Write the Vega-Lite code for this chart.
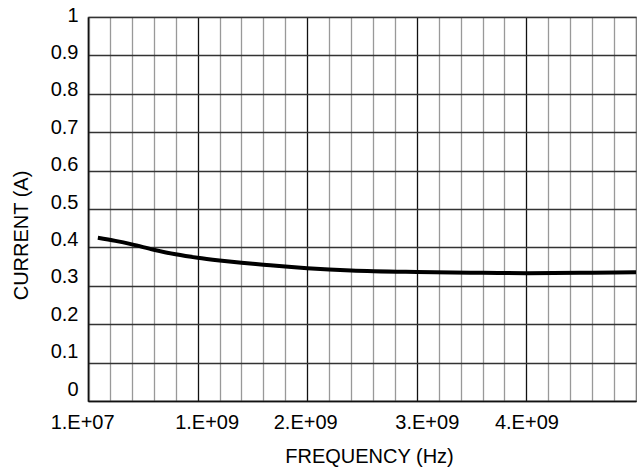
{
  "$schema": "https://vega.github.io/schema/vega-lite/v6.json",
  "autosize": {"type": "none"},
  "padding": {"left": 88, "top": 17, "right": 1, "bottom": 69},
  "width": 548,
  "height": 384,
  "background": "white",
  "config": {
    "view": {"stroke": "#777", "strokeWidth": 1.2},
    "font": "Liberation Sans",
    "axis": {"labelFont": "Liberation Sans", "titleFont": "Liberation Sans", "labelColor": "#000", "titleColor": "#000", "titleFontWeight": "normal"}
  },
  "data": {"values": [
    {"freq": 90000000, "current": 0.425},
    {"freq": 250000000, "current": 0.417},
    {"freq": 400000000, "current": 0.408},
    {"freq": 600000000, "current": 0.394},
    {"freq": 800000000, "current": 0.382},
    {"freq": 1000000000, "current": 0.373},
    {"freq": 1200000000, "current": 0.366},
    {"freq": 1400000000, "current": 0.36},
    {"freq": 1600000000, "current": 0.355},
    {"freq": 1800000000, "current": 0.35},
    {"freq": 2000000000, "current": 0.346},
    {"freq": 2400000000, "current": 0.34},
    {"freq": 3000000000, "current": 0.336},
    {"freq": 3600000000, "current": 0.334},
    {"freq": 4000000000, "current": 0.333},
    {"freq": 4600000000, "current": 0.334},
    {"freq": 5000000000, "current": 0.335}
  ]},
  "mark": {"type": "line", "color": "#000", "strokeWidth": 4, "interpolate": "monotone", "clip": true},
  "encoding": {
    "x": {
      "field": "freq", "type": "quantitative",
      "scale": {"domain": [0, 5000000000], "nice": false, "zero": false},
      "axis": {
        "title": "FREQUENCY (Hz)",
        "titleFontSize": 20,
        "titleX": 281,
        "titlePadding": 14,
        "values": [10000000, 200000000, 400000000, 600000000, 800000000, 1000000000, 1200000000, 1400000000, 1600000000, 1800000000, 2000000000, 2200000000, 2400000000, 2600000000, 2800000000, 3000000000, 3200000000, 3400000000, 3600000000, 3800000000, 4000000000, 4200000000, 4400000000, 4600000000, 4800000000],
        "labelExpr": "datum.value == 10000000 ? '1.E+07' : (datum.value % 1000000000 == 0 ? format(datum.value / 1000000000, 'd') + '.E+09' : '')",
        "labelFontSize": 20,
        "labelPadding": 11,
        "labelOverlap": false,
        "labelFlush": false,
        "labelBound": false,
        "labelOffset": {"expr": "datum.value == 10000000 ? -7 : datum.value == 1000000000 ? 9 : datum.value == 2000000000 ? -2 : datum.value == 3000000000 ? 10 : 0"},
        "ticks": false,
        "domainColor": "#111",
        "domainWidth": 1.5,
        "grid": true,
        "gridColor": {"expr": "datum.value % 1000000000 == 0 ? '#111' : '#999'"},
        "gridWidth": 1.3,
        "gridOpacity": 1
      }
    },
    "y": {
      "field": "current", "type": "quantitative",
      "scale": {"domain": [0, 1], "nice": false},
      "axis": {
        "title": "CURRENT (A)",
        "titleFontSize": 20,
        "titleY": 218,
        "titlePadding": 19,
        "values": [0, 0.1, 0.2, 0.3, 0.4, 0.5, 0.6, 0.7, 0.8, 0.9, 1],
        "labelExpr": "format(datum.value, '.1~f')",
        "labelFontSize": 20,
        "labelPadding": 10,
        "labelOverlap": false,
        "labelFlush": false,
        "labelBound": false,
        "labelOffset": {"expr": "-2 - 10 * (1 - datum.value)"},
        "ticks": false,
        "domainColor": "#111",
        "domainWidth": 1.5,
        "grid": true,
        "gridColor": "#333",
        "gridWidth": 1.3,
        "gridOpacity": 1
      }
    }
  }
}
